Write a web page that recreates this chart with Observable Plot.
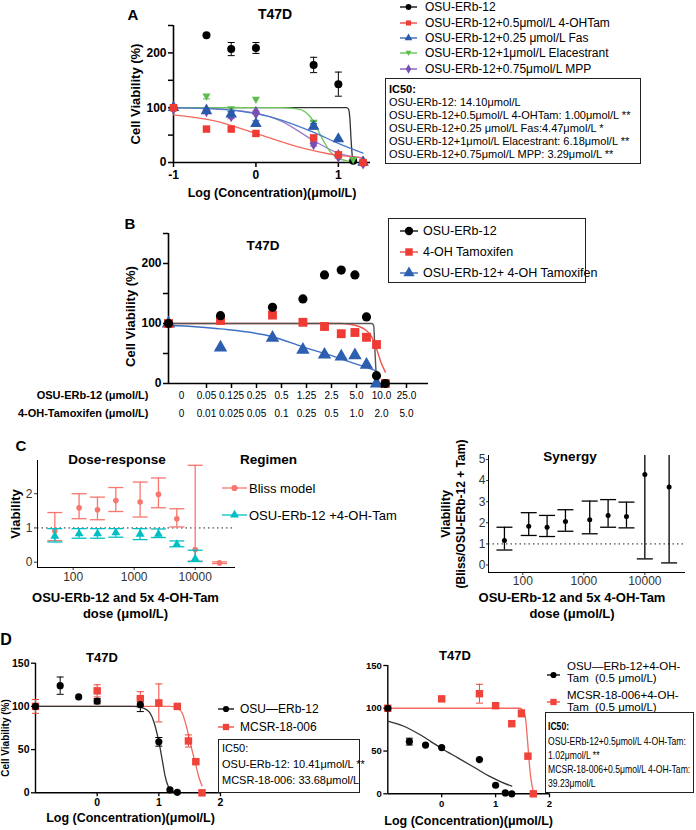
<!DOCTYPE html>
<html><head><meta charset="utf-8">
<script src="https://cdn.jsdelivr.net/npm/d3@7"></script>
<script src="https://cdn.jsdelivr.net/npm/@observablehq/plot@0.6"></script>
<style>
html,body{margin:0;padding:0;background:#fff;}
#fig{position:relative;width:696px;height:830px;overflow:hidden;background:#fff;font-family:'Liberation Sans',Arial,Helvetica,sans-serif;}
</style></head><body><div id="fig"></div><script>
// ---------------- Panel A data ----------------
const aLogConc = [-1, -0.6, -0.3, 0, 0.7, 1, 1.18, 1.3];
const aOSU    = [100, 232, 207, 209, 178, 143, 3, 0];
const aOSUErr = [0, 0, 12, 10, 14, 22, 0, 0];
const aTam    = [100, 61, 61, 53, 45, 14, null, 0];
const aTamErr = [0, 0, 0, 0, 4, 0, 0, 0];
const aFas    = [100, 94, 88, 71, 66, 43, null, 0];
const aFasErr = [0, 3, 5, 5, 5, 0, 0, 0];
const aEla    = [100, 120, 97, 114, 72, null, 4, 0];
const aElaErr = [0, 4, 0, 0, 3, 0, 0, 0];
const aMPP    = [100, 95, 86, 91, 35, 12, null, 0];
const aMPPErr = [0, 0, 6, 3, 5, 0, 0, 0];
const aOSUFitX = [-1, 1.1, 1.125, 1.14, 1.155, 1.17, 1.18];
const aOSUFitY = [100, 100, 97, 80, 40, 10, 2];
const aTamFitX = [-1, -0.5, 0, 0.5, 1, 1.3];
const aTamFitY = [87, 76, 53, 29, 13, 9];
const aFasFitX = [-1, -0.5, 0, 0.3, 0.7, 1, 1.3];
const aFasFitY = [100, 98, 89, 78, 55, 35, 17];
const aElaFitX = [-1, 0.3, 0.5, 0.6, 0.7, 0.8, 0.9, 1.0, 1.1, 1.2];
const aElaFitY = [100, 100, 98, 92, 75, 45, 20, 8, 3, 1];
const aMPPFitX = [-1, -0.5, 0, 0.3, 0.7, 1, 1.3];
const aMPPFitY = [100, 98, 90, 76, 40, 17, 8];
const aLegend = ["OSU-ERb-12", "OSU-ERb-12+0.5\u03bcmol/L 4-OHTam", "OSU-ERb-12+0.25 \u03bcmol/L Fas", "OSU-ERb-12+1\u03bcmol/L Elacestrant", "OSU-ERb-12+0.75\u03bcmol/L MPP"];
const aIC50 = ["OSU-ERb-12: 14.10\u03bcmol/L", "OSU-ERb-12+0.5\u03bcmol/L 4-OHTam: 1.00\u03bcmol/L **", "OSU-ERb-12+0.25 \u03bcmol/L Fas:4.47\u03bcmol/L *", "OSU-ERb-12+1\u03bcmol/L Elacestrant: 6.18\u03bcmol/L **", "OSU-ERb-12+0.75\u03bcmol/L MPP: 3.29\u03bcmol/L **"];

// ---------------- Panel B data ----------------
const bLevel = [0.5, 1, 2, 3, 4, 5, 6, 7, 8, 9];
const bOSU   = [100, 113, 127, 141, 181, 189, 181, 111, 13, 0];
const bTam   = [100, 105, 114, 102, 95, 83, 85, 77, 65, 0];
const bCombo = [100, 60, 76, 56, 48, 45, 47, 31, 0, null];
const bOSUFitX = [0.5, 7.5, 7.7, 7.85, 8.0];
const bOSUFitY = [100, 100, 97, 50, 3];
const bTamFitX = [0.5, 5, 6, 7, 7.5, 8, 8.5, 9];
const bTamFitY = [100, 100, 97, 88, 78, 58, 35, 19];
const bComboFitX = [0.5, 1, 2, 3, 4, 5, 6, 7, 8];
const bComboFitY = [97, 91, 78, 61, 50, 41, 33, 27, 21];
const bOsuTicks = ["0", "0.05", "0.125", "0.25", "0.5", "1.25", "2.5", "5.0", "10.0", "25.0"];
const bTamTicks = ["0", "0.01", "0.025", "0.05", "0.1", "0.25", "0.5", "1.0", "2.0", "5.0"];
const bLegend = ["OSU-ERb-12", "4-OH Tamoxifen", "OSU-ERb-12+ 4-OH Tamoxifen"];

// ---------------- Panel C data ----------------
const cDose     = [50, 125, 250, 500, 1250, 2500, 5000, 10000, 25000];
const cBliss    = [0.91, 1.59, 1.53, 1.80, 1.76, 1.98, 1.27, 0.37, -0.02];
const cBlissLo  = [0.63, 1.27, 1.24, 1.48, 1.32, 1.59, 1.03, 0.03, -0.04];
const cBlissHi  = [1.45, 2.00, 1.90, 2.18, 2.34, 2.46, 1.56, 2.83, 0.01];
const cCombo    = [0.76, 0.83, 0.83, 0.86, 0.82, 0.82, 0.52, 0.10];
const cComboLo  = [0.59, 0.70, 0.70, 0.73, 0.66, 0.72, 0.45, 0.02];
const cComboHi  = [0.98, 0.98, 0.98, 0.98, 0.98, 0.97, 0.62, 0.35];
const cSyn      = [1.16, 1.84, 1.79, 2.06, 2.14, 2.35, 2.30, 4.29, 3.70];
const cSynLo    = [0.71, 1.40, 1.35, 1.60, 1.48, 1.79, 1.76, 0.29, 0.10];
const cSynHi    = [1.79, 2.48, 2.35, 2.62, 3.03, 3.10, 2.98, 6.5, 6.5];
const cLegend = ["Bliss model", "OSU-ERb-12 +4-OH-Tam"];

// ---------------- Panel D data ----------------
const dLogConc1 = [-1, -0.6, -0.3, 0, 0.7, 1, 1.18, 1.3];
const dLogConc2 = [-1, 0, 0.7, 1, 1.3, 1.48, 1.6, 1.7];
const dOSU      = [100, 124, 111, 106, 102, 59, 3.5, 0.5];
const dOSUErr   = [0, 10, 0, 3, 8, 5, 0, 0];
const dMCSR     = [100, 118, 109, 104, 100, 60, 36, 0];
const dMCSRErr  = [8, 7, 8, 22, 2, 7, 2, 0];
const dOSUTam   = [100, 61, 57, 54, 40, 10, 1, 0];
const dOSUTamErr= [0, 4, 0, 0, 0, 0, 0, 0];
const dMCSRTam  = [100, 111, 117, 103, 82, 94, 44, 0];
const dMCSRTamErr=[0, 0, 11, 3, 0, 4, 0, 0];
const dOSUFitX  = [-1, 0.6, 0.75, 0.85, 0.92, 0.98, 1.02, 1.06, 1.1, 1.15, 1.2, 1.3];
const dOSUFitY  = [100, 100, 98, 93, 82, 66, 52, 36, 20, 8, 3, 0.5];
const dMCSRFitX = [-1, 1.2, 1.3, 1.38, 1.45, 1.5, 1.55, 1.6, 1.65, 1.7];
const dMCSRFitY = [100, 100, 98, 92, 76, 61, 46, 32, 18, 8];
const dOSUTamFitX  = [-1, -0.7, -0.4, -0.2, 0, 0.3, 0.6, 0.9, 1.1, 1.3];
const dOSUTamFitY  = [85, 79, 69, 61, 53, 42, 31, 20, 14, 9];
const dMCSRTamFitX = [-1, 1.45, 1.52, 1.56, 1.59, 1.62, 1.65, 1.68, 1.71];
const dMCSRTamFitY = [100, 100, 96, 86, 64, 40, 20, 8, 0];
const dLegendL = ["OSU\u2014ERb-12", "MCSR-18-006"];
const dIC50L = ["IC50:", "OSU-ERb-12: 10.41\u03bcmol/L **", "MCSR-18-006: 33.68\u03bcmol/L"];
const dLegendR = [["OSU\u2014ERb-12+4-OH-", "Tam  (0.5 \u03bcmol/L)"], ["MCSR-18-006+4-OH-", "Tam  (0.5 \u03bcmol/L)"]];
const dIC50R = ["IC50:", "OSU-ERb-12+0.5\u03bcmol/L 4-OH-Tam:", "1.02\u03bcmol/L **", "MCSR-18-006+0.5\u03bcmol/L 4-OH-Tam:", "39.23\u03bcmol/L"];

// ---------------- helpers ----------------
const FONT = "'Liberation Sans', Arial, Helvetica, sans-serif";
const fig = document.getElementById("fig");
function mount(svg, x, y) {
  svg.style.position = "absolute"; svg.style.left = x + "px"; svg.style.top = y + "px";
  svg.style.overflow = "visible"; svg.style.maxWidth = "none";
  fig.appendChild(svg);
}
function txt(s, x, y, o = {}) {
  const d = document.createElement("div");
  d.textContent = s;
  Object.assign(d.style, {position: "absolute", left: x + "px", top: y + "px", fontSize: (o.size || 12) + "px",
    fontWeight: o.bold ? "bold" : "normal", color: o.color || "#000", whiteSpace: "pre", lineHeight: "1",
    fontFamily: o.family || FONT});
  const tx = o.anchor === "middle" ? "-50%" : o.anchor === "end" ? "-100%" : "0";
  d.style.transformOrigin = "left center";
  d.style.transform = `translate(${tx},-50%)` + (o.sx ? ` scaleX(${o.sx})` : "");
  fig.appendChild(d);
  return d;
}
function box(x, y, w, h, bw = 1.5) {
  const d = document.createElement("div");
  Object.assign(d.style, {position: "absolute", left: x + "px", top: y + "px", width: w + "px", height: h + "px",
    border: bw + "px solid #222", boxSizing: "border-box"});
  fig.appendChild(d);
}
const triDown = {draw(ctx, size) { const r = Math.sqrt(size / Math.PI); ctx.moveTo(-r, -r * 0.8); ctx.lineTo(r, -r * 0.8); ctx.lineTo(0, r); ctx.closePath(); }};
const hCap = {draw(ctx, size) { const r = Math.sqrt(size / Math.PI); ctx.moveTo(-r, 0); ctx.lineTo(r, 0); }};
const vTick = {draw(ctx, size) { const r = Math.sqrt(size / Math.PI); ctx.moveTo(0, 0); ctx.lineTo(0, r); }};
const symMap = {circle: d3.symbolCircle, square: d3.symbolSquare, triangle: d3.symbolTriangle, diamond: d3.symbolDiamond, down: triDown};
function swatch(x, y, color, sym, w = 18, size = 40, lw = 1.5) {
  const svg = d3.create("svg").attr("width", w + 10).attr("height", 14)
    .style("position", "absolute").style("left", (x - 5) + "px").style("top", (y - 7) + "px");
  svg.append("line").attr("x1", 5).attr("x2", w + 5).attr("y1", 7).attr("y2", 7).attr("stroke", color).attr("stroke-width", lw);
  if (sym) svg.append("path").attr("transform", `translate(${5 + w / 2},7)`).attr("d", d3.symbol(symMap[sym], size)()).attr("fill", color);
  fig.appendChild(svg.node());
}
function errBars(rows, {x = "x", lo, hi, color, r = 4, w = 1, clip = false}) {
  return [
    Plot.ruleX(rows, {x, y1: lo, y2: hi, stroke: color, strokeWidth: w, clip}),
    Plot.dot(rows, {x, y: lo, symbol: hCap, r, stroke: color, fill: "none", strokeWidth: w, clip}),
    Plot.dot(rows, {x, y: hi, symbol: hCap, r, stroke: color, fill: "none", strokeWidth: w, clip})
  ];
}
const yTitle = (s, dx, o = {}) => Plot.text([s], {text: d => d, frameAnchor: "left", dx, dy: o.dy || 0, rotate: -90, textAnchor: "middle", lineAnchor: "middle", fontSize: o.size || 13, fontWeight: "bold", fill: "#000"});
const xTitle = (s, dy, o = {}) => Plot.text([s], {text: d => d, frameAnchor: "bottom", dx: o.dx || 0, dy, textAnchor: "middle", lineAnchor: "middle", fontSize: o.size || 13, fontWeight: "bold", fill: "#000"});
const rowsOf = (X, Y, E) => X.map((x, i) => ({x, y: Y[i], e: E ? E[i] : 0})).filter(d => d.y != null);
const pe = d => d.y + d.e, me = d => d.y - d.e;

// ================= Panel A =================
const aSer = [
  {rows: rowsOf(aLogConc, aOSU, aOSUErr), fit: rowsOf(aOSUFitX, aOSUFitY), color: "#000", curve: "#333", sym: "circle", r: 4},
  {rows: rowsOf(aLogConc, aMPP, aMPPErr), fit: rowsOf(aMPPFitX, aMPPFitY), color: "#7B4FB2", curve: "#9A7DCB", sym: "diamond", r: 4.2},
  {rows: rowsOf(aLogConc, aEla, aElaErr), fit: rowsOf(aElaFitX, aElaFitY), color: "#5CBD4B", curve: "#6CC45C", sym: triDown, r: 4},
  {rows: rowsOf(aLogConc, aFas, aFasErr), fit: rowsOf(aFasFitX, aFasFitY), color: "#2A5AAB", curve: "#4A78C8", sym: "triangle", r: 4.3},
  {rows: rowsOf(aLogConc, aTam, aTamErr), fit: rowsOf(aTamFitX, aTamFitY), color: "#EE3B34", curve: "#F26A5F", sym: "square", r: 4.2}
];
mount(Plot.plot({
  width: 380, height: 200, marginLeft: 173, marginRight: 10, marginTop: 25, marginBottom: 38,
  x: {domain: [-1, 1.39], label: null}, y: {domain: [0, 250], label: null},
  style: {fontFamily: FONT, fontSize: "12px", fontWeight: "bold", color: "#000", overflow: "visible"},
  marks: [
    Plot.axisY({ticks: [0, 50, 100, 150, 200, 250], tickFormat: d => d % 100 === 0 ? String(d) : "", tickSize: 5, tickPadding: 2, strokeWidth: 1.5, label: null, fontSize: 12}),
    Plot.axisX({ticks: [-1, 0, 1], tickFormat: d => String(d), tickSize: 5, tickPadding: 3, strokeWidth: 1.5, label: null, fontSize: 12}),
    Plot.ruleX([-1], {strokeWidth: 1.6}),
    Plot.ruleY([0], {strokeWidth: 1.6}),
    ...aSer.map(s => Plot.line(s.fit, {x: "x", y: "y", stroke: s.curve, strokeWidth: 1.3, curve: "monotone-x"})),
    ...aSer.flatMap(s => errBars(s.rows.filter(d => d.e > 0), {lo: me, hi: pe, color: s.color, r: 3.5})),
    ...aSer.map(s => Plot.dot(s.rows, {x: "x", y: "y", symbol: s.sym, fill: s.color, stroke: "none", r: s.r})),
    yTitle("Cell Viability (%)", -38, {size: 13}),
    xTitle("Log (Concentration)(\u03bcmol/L)", 30, {size: 12.5})
  ]
}), 0, 0);
txt("A", 133, 14, {size: 15, bold: true, anchor: "middle"});
txt("T47D", 275, 14, {size: 14, bold: true, anchor: "middle"});
const aSyms = ["circle", "square", "triangle", "down", "diamond"];
const aCols = ["#000", "#EE3B34", "#2A5AAB", "#5CBD4B", "#7B4FB2"];
aLegend.forEach((t, i) => {
  const y = [6.5, 22.5, 37.5, 53, 69][i];
  swatch(400, y, aCols[i], aSyms[i], 17, 26, 1.3);
  txt(t, 425, y, {size: 12});
});
box(385, 78, 256, 86);
txt("IC50:", 389, 89, {size: 11, bold: true});
aIC50.forEach((t, i) => txt(t, 389, 102 + i * 13, {size: 11}));

// ================= Panel B =================
const bSer = [
  {rows: rowsOf(bLevel, bCombo), fit: rowsOf(bComboFitX, bComboFitY), color: "#2D5FB0", curve: "#3D6FC6", sym: "triangle", r: 5},
  {rows: rowsOf(bLevel, bTam), fit: rowsOf(bTamFitX, bTamFitY), color: "#EF3B33", curve: "#F0554B", sym: "square", r: 5},
  {rows: rowsOf(bLevel, bOSU), fit: rowsOf(bOSUFitX, bOSUFitY), color: "#000", curve: "#555", sym: "circle", r: 4.6}
];
mount(Plot.plot({
  width: 440, height: 186, marginLeft: 168, marginRight: 12, marginTop: 33, marginBottom: 3,
  x: {type: "log", domain: [0.5, 16], label: null, axis: null}, y: {domain: [0, 250], label: null},
  style: {fontFamily: FONT, fontSize: "12px", fontWeight: "bold", color: "#000", overflow: "visible"},
  marks: [
    Plot.axisY({ticks: [0, 50, 100, 150, 200, 250], tickFormat: d => d % 100 === 0 ? String(d) : "", tickSize: 5, tickPadding: 2, strokeWidth: 1.5, label: null, fontSize: 12}),
    Plot.ruleX([0.5], {strokeWidth: 1.6}),
    Plot.ruleY([0], {strokeWidth: 1.6}),
    ...bSer.map(s => Plot.line(s.fit, {x: "x", y: "y", stroke: s.curve, strokeWidth: 1.4, curve: "monotone-x"})),
    ...bSer.map(s => Plot.dot(s.rows, {x: "x", y: "y", symbol: s.sym, fill: s.color, stroke: "none", r: s.r})),
    yTitle("Cell Viability (%)", -38, {size: 13, dy: 8})
  ]
}), 0, 200);
mount(Plot.plot({
  width: 440, height: 45, marginLeft: 0, marginRight: 0, marginTop: 0, marginBottom: 0,
  x: {type: "point", domain: d3.range(bOsuTicks.length), range: [167, 420], axis: null},
  y: {domain: [0, 45], range: [0, 45], axis: null},
  style: {fontFamily: FONT, fontSize: "10px", color: "#000", overflow: "visible"},
  marks: [
    Plot.dot(d3.range(1, bOsuTicks.length), {x: d => d, y: 0, symbol: vTick, r: 4.5, stroke: "#000", strokeWidth: 1.5}),
    Plot.text(bOsuTicks, {x: (d, i) => i, y: 12, text: d => d, fontSize: 10}),
    Plot.text(bTamTicks, {x: (d, i) => i, y: 30, text: d => d, fontSize: 10}),
    Plot.text(["OSU-ERb-12 (\u03bcmol/L)"], {text: d => d, y: 12, frameAnchor: "left", dx: 148, textAnchor: "end", fontWeight: "bold", fontSize: 11}),
    Plot.text(["4-OH-Tamoxifen (\u03bcmol/L)"], {text: d => d, y: 30, frameAnchor: "left", dx: 148, textAnchor: "end", fontWeight: "bold", fontSize: 11})
  ]
}), 0, 383);
txt("B", 130, 223, {size: 15, bold: true, anchor: "middle"});
txt("T47D", 263, 246, {size: 13.5, bold: true, anchor: "middle"});
box(388, 218, 198, 65);
const bCols = ["#000", "#EF3B33", "#2D5FB0"], bSyms = ["circle", "square", "triangle"];
bLegend.forEach((t, i) => {
  const y = [231, 252, 273][i];
  swatch(400, y, bCols[i], bSyms[i], 18, 55, 1.3);
  txt(t, 423, y, {size: 12.5});
});

// ================= Panel C (dose-response) =================
const RED = "#F8766D", TEAL = "#00BFC4";
const cBlissRows = cDose.map((x, i) => ({x, y: cBliss[i], lo: cBlissLo[i], hi: cBlissHi[i]}));
const cComboRows = cCombo.map((y, i) => ({x: cDose[i], y, lo: cComboLo[i], hi: cComboHi[i]}));
mount(Plot.plot({
  width: 250, height: 180, marginLeft: 37, marginRight: 15, marginTop: 20, marginBottom: 53,
  x: {type: "log", domain: [26, 45800], label: null}, y: {domain: [-0.155, 2.97], label: null},
  style: {fontFamily: FONT, fontSize: "12px", color: "#333", overflow: "visible"},
  marks: [
    Plot.axisY({ticks: [0, 1, 2], tickFormat: d => String(d), tickSize: 3, tickPadding: 2, label: null, fontSize: 12, stroke: "#333"}),
    Plot.axisX({ticks: [100, 1000, 10000], tickFormat: d => String(d), tickSize: 3, tickPadding: 2, label: null, fontSize: 12, stroke: "#333"}),
    Plot.ruleX([26], {stroke: "#000", strokeWidth: 1}),
    Plot.ruleY([-0.155], {stroke: "#000", strokeWidth: 1}),
    Plot.ruleY([1], {stroke: "#222", strokeDasharray: "1.5,3", strokeWidth: 1}),
    ...errBars(cBlissRows, {lo: "lo", hi: "hi", color: RED, r: 7.5, w: 1.3}),
    Plot.dot(cBlissRows, {x: "x", y: "y", fill: RED, r: 2.8}),
    ...errBars(cComboRows, {lo: "lo", hi: "hi", color: TEAL, r: 7.5, w: 1.3}),
    Plot.dot(cComboRows, {x: "x", y: "y", symbol: "triangle", fill: TEAL, r: 3.3}),
    yTitle("Viability", -22, {size: 13}),
    xTitle("OSU-ERb-12 and 5x 4-OH-Tam", 30, {dx: -11}),
    xTitle("dose (\u03bcmol/L)", 46, {dx: -11})
  ]
}), 0, 440);
txt("C", 21, 445, {size: 15, bold: true, anchor: "middle"});
txt("Dose-response", 117, 460, {size: 13.5, bold: true, anchor: "middle"});
txt("Regimen", 240, 460, {size: 13.5, bold: true});
swatch(222, 488, RED, "circle", 25, 30, 1.3);
txt(cLegend[0], 249, 488, {size: 13});
swatch(222, 515, TEAL, "triangle", 25, 35, 1.3);
txt(cLegend[1], 249, 515, {size: 13});

// ================= Panel C (synergy) =================
const cSynRows = cDose.map((x, i) => ({x, y: cSyn[i], lo: cSynLo[i], hi: cSynHi[i]}));
mount(Plot.plot({
  width: 296, height: 180, marginLeft: 88, marginRight: 11, marginTop: 15, marginBottom: 48,
  x: {type: "log", domain: [27.4, 46400], label: null}, y: {domain: [-0.355, 5.19], label: null},
  style: {fontFamily: FONT, fontSize: "12px", color: "#333", overflow: "visible"},
  marks: [
    Plot.axisY({ticks: [0, 1, 2, 3, 4, 5], tickFormat: d => String(d), tickSize: 2, tickPadding: 1, label: null, fontSize: 12, stroke: "#333"}),
    Plot.axisX({ticks: [100, 1000, 10000], tickFormat: d => String(d), tickSize: 3, tickPadding: 1, label: null, fontSize: 12, stroke: "#333"}),
    Plot.ruleX([27.4], {stroke: "#000", strokeWidth: 1}),
    Plot.ruleY([-0.355], {stroke: "#000", strokeWidth: 1}),
    Plot.ruleY([1], {stroke: "#222", strokeDasharray: "1.5,3", strokeWidth: 1}),
    ...errBars(cSynRows, {lo: "lo", hi: "hi", color: "#000", r: 8, w: 1.3, clip: true}),
    Plot.dot(cSynRows, {x: "x", y: "y", fill: "#000", r: 2.5}),
    yTitle("Viability", -43, {size: 12.5}),
    yTitle("(Bliss/OSU-ERb-12 + Tam)", -27, {size: 12}),
    xTitle("OSU-ERb-12 and 5x 4-OH-Tam", 25, {dx: -15}),
    xTitle("dose (\u03bcmol/L)", 41, {dx: -15})
  ]
}), 400, 440);
txt("Synergy", 570, 457, {size: 13.5, bold: true, anchor: "middle"});

// ================= Panel D =================
const DRED = "#F0443A", DREDC = "#F36A60";
function dPlot({w, mL, mR, mT, mB, ser, tickFont, ylab, xlabDy, xlabDx}) {
  return Plot.plot({
    width: w, height: 190, marginLeft: mL, marginRight: mR, marginTop: mT, marginBottom: mB,
    x: {domain: [-1, 2], label: null}, y: {domain: [0, 150], label: null},
    style: {fontFamily: FONT, fontSize: tickFont + "px", fontWeight: "bold", color: "#000", overflow: "visible"},
    marks: [
      Plot.axisY({ticks: [0, 50, 100, 150], tickFormat: d => String(d), tickSize: 4, tickPadding: 2, strokeWidth: 1.3, label: null, fontSize: tickFont}),
      Plot.axisX({ticks: [0, 1, 2], tickFormat: d => String(d), tickSize: 4, tickPadding: 2, strokeWidth: 1.3, label: null, fontSize: tickFont}),
      Plot.ruleX([-1], {strokeWidth: 1.4}),
      Plot.ruleY([0], {strokeWidth: 1.4}),
      ...ser.map(s => Plot.line(s.fit, {x: "x", y: "y", stroke: s.curve, strokeWidth: 1.3, curve: "monotone-x"})),
      ...ser.flatMap(s => errBars(s.rows.filter(d => d.e > 0), {lo: me, hi: pe, color: s.color, r: 3.5})),
      ...ser.map(s => Plot.dot(s.rows, {x: "x", y: "y", symbol: s.sym, fill: s.color, stroke: "none", r: s.r})),
      ...(ylab ? [yTitle("Cell Viability (%)", -30, {size: 10, dy: 10})] : []),
      xTitle("Log (Concentration)(\u03bcmol/L)", xlabDy, {dx: xlabDx, size: 12.5})
    ]
  });
}
mount(dPlot({w: 230, mL: 35, mR: 10, mT: 22.7, mB: 37.7, tickFont: 10.5, ylab: true, xlabDy: 25, xlabDx: 2.5,
  ser: [
    {rows: rowsOf(dLogConc2, dMCSR, dMCSRErr), fit: rowsOf(dMCSRFitX, dMCSRFitY), color: DRED, curve: DREDC, sym: "square", r: 4.2},
    {rows: rowsOf(dLogConc1, dOSU, dOSUErr), fit: rowsOf(dOSUFitX, dOSUFitY), color: "#000", curve: "#333", sym: "circle", r: 3.6}
  ]}), 0, 640);
txt("D", 6, 640, {size: 16, bold: true, anchor: "middle"});
txt("T47D", 102, 657, {size: 13, bold: true, anchor: "middle"});
swatch(218, 709, "#000", "circle", 16, 30, 1.3);
txt(dLegendL[0], 240, 709, {size: 12});
swatch(218, 727, DRED, "square", 16, 40, 1.3);
txt(dLegendL[1], 240, 727, {size: 12});
box(218, 739, 142, 54, 1.2);
txt(dIC50L[0], 222, 748, {size: 11});
txt(dIC50L[1], 222, 764, {size: 11});
txt(dIC50L[2], 222, 780, {size: 11});

mount(dPlot({w: 220, mL: 37.3, mR: 21, mT: 25, mB: 36.7, tickFont: 9.5, ylab: false, xlabDy: 27, xlabDx: 0,
  ser: [
    {rows: rowsOf(dLogConc2, dMCSRTam, dMCSRTamErr), fit: rowsOf(dMCSRTamFitX, dMCSRTamFitY), color: DRED, curve: DREDC, sym: "square", r: 4.2},
    {rows: rowsOf(dLogConc1, dOSUTam, dOSUTamErr), fit: rowsOf(dOSUTamFitX, dOSUTamFitY), color: "#000", curve: "#333", sym: "circle", r: 3.6}
  ]}), 350, 640);
txt("T47D", 455, 655, {size: 13, bold: true, anchor: "middle"});
swatch(547, 675, "#000", "circle", 13, 30, 1.3);
txt(dLegendR[0][0], 567, 667, {size: 11.5});
txt(dLegendR[0][1], 567, 679, {size: 11.5});
swatch(547, 702, DRED, "square", 13, 40, 1.3);
txt(dLegendR[1][0], 567, 696, {size: 11.5});
txt(dLegendR[1][1], 567, 708, {size: 11.5});
box(545, 712, 149, 81, 1.2);
txt(dIC50R[0], 548, 726, {size: 10.5, bold: true, sx: 0.82});
dIC50R.slice(1).forEach((t, i) => txt(t, 548, 741 + i * 14, {size: 10.5, sx: 0.82}));
</script></body></html>
